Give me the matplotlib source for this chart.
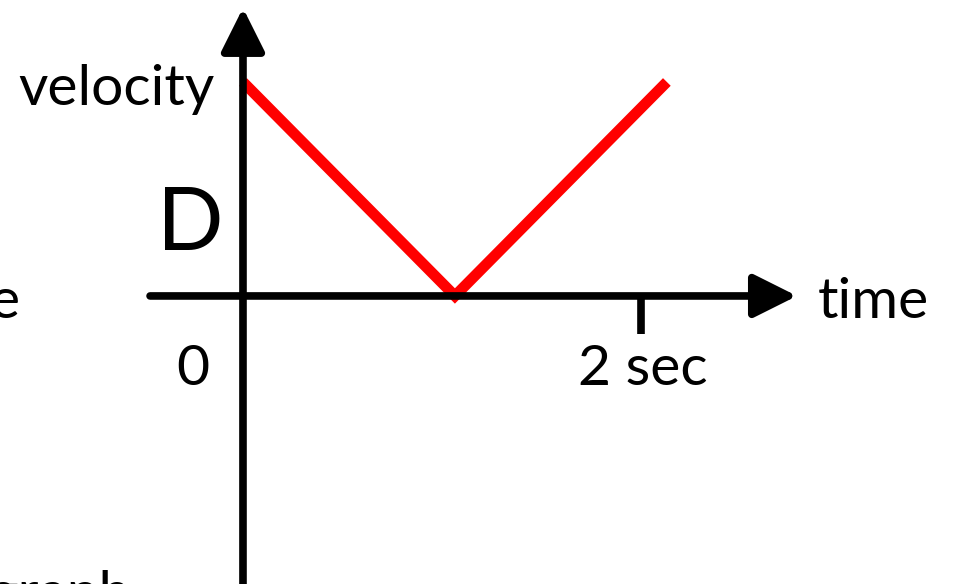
import matplotlib
matplotlib.use("Agg")
import matplotlib.pyplot as plt

plt.rcParams['font.family'] = ['Lato', 'DejaVu Sans']

# velocity vs time (arbitrary units, 1 = top of graph)
t = [0.0, 1.065, 2.13]
v = [1.0, 0.0, 1.0]
tick_t = 2.0

fig = plt.figure(figsize=(9.56, 5.84), dpi=100)
ax = fig.add_axes([0, 0, 1, 1])
ax.set_xlim(-1.221, 3.583)
ax.set_ylim(-1.346, 1.383)
ax.axis('off')

arrow = dict(arrowstyle='-|>,head_length=0.4,head_width=0.2', lw=5.5,
             color='black', mutation_scale=66, shrinkA=0, shrinkB=0)
# axes with arrowheads
ax.annotate('', xy=(2.784, 0), xytext=(-0.467, 0), arrowprops=arrow)
ax.annotate('', xy=(0, 1.346), xytext=(0, -1.4), arrowprops=arrow)
# tick at 2 sec
ax.plot([tick_t, tick_t], [0, -0.178], color='black', lw=5.5,
        solid_capstyle='butt')

ax.plot(t, v, color='#ff0000', lw=7.8, solid_joinstyle='miter',
        solid_capstyle='butt')

fs = 41
ax.text(-0.141, 0.893, 'velocity', ha='right', va='baseline', fontsize=fs)
ax.text(2.889, -0.103, 'time', ha='left', va='baseline', fontsize=fs)
ax.text(-0.251, -0.416, '0', ha='center', va='baseline', fontsize=fs)
ax.text(1.683, -0.416, '2 sec', ha='left', va='baseline', fontsize=fs)
ax.text(-0.43, 0.215, 'D', ha='left', va='baseline', fontsize=63)
ax.text(-1.12, -0.103, 'e', ha='right', va='baseline', fontsize=fs)
ax.text(-0.565, -1.47, 'graph', ha='right', va='baseline', fontsize=fs)

fig.savefig('out.png', dpi=100)
